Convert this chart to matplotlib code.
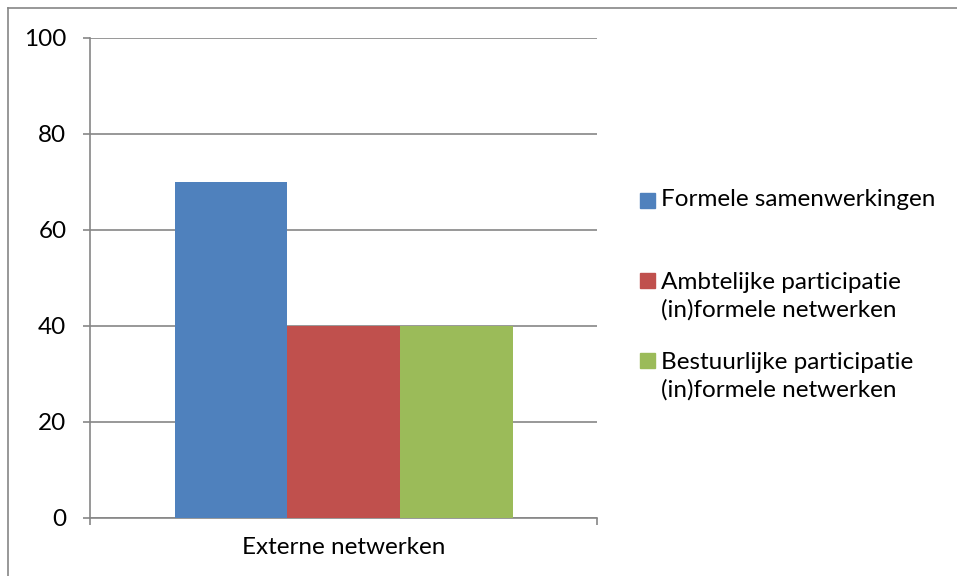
import matplotlib.pyplot as plt
from matplotlib.lines import Line2D
from matplotlib.patches import Rectangle

plt.rcParams['font.family'] = ['Lato', 'DejaVu Sans']

category = 'Externe netwerken'
series = ['Formele samenwerkingen',
          'Ambtelijke participatie\n(in)formele netwerken',
          'Bestuurlijke participatie\n(in)formele netwerken']
values = [70, 40, 40]
colors = ['#4F81BD', '#C0504D', '#9BBB59']
yticks = [0, 20, 40, 60, 80, 100]

W, H = 957, 576
grid_col = '#868686'
fs = 17.5

fig = plt.figure(figsize=(W / 100, H / 100), dpi=100)
ax = fig.add_axes([90 / W, 1 - 518 / H, 507 / W, 480 / H])

bar_w = 2 / 9
for i, (v, c) in enumerate(zip(values, colors)):
    ax.bar((i - 1) * bar_w, v, width=bar_w, color=c, zorder=3)

ax.set_xlim(-0.5, 0.5)
ax.set_ylim(0, 100)
ax.set_yticks(yticks)
ax.yaxis.grid(True, color=grid_col, lw=1.2)
ax.set_axisbelow(True)

for s in ['top', 'right']:
    ax.spines[s].set_visible(False)
for s in ['left', 'bottom']:
    ax.spines[s].set_color(grid_col)
    ax.spines[s].set_linewidth(1.2)

ax.tick_params(axis='y', length=5, width=1.2, color=grid_col,
               labelsize=fs, pad=12)
ax.set_xticks([-0.5, 0.5])
ax.set_xticklabels(['', ''])
ax.set_xticks([0], minor=True)
ax.set_xticklabels([category], minor=True)
ax.tick_params(axis='x', which='major', length=5, width=1.2, color=grid_col)
ax.tick_params(axis='x', which='minor', length=0, labelsize=fs, pad=14)

# legend drawn by hand so the entry spacing can follow the layout
legend_rows = [200, 280, 360]
line_gap = 33
for lbl, c, yc in zip(series, colors, legend_rows):
    fig.patches.append(Rectangle((640 / W, 1 - (yc + 7.5) / H), 15 / W, 15 / H,
                                 transform=fig.transFigure, color=c))
    n = lbl.count('\n')
    fig.text(661 / W, 1 - (yc + n * line_gap / 2) / H, lbl, fontsize=fs,
             va='center', ha='left', linespacing=1.35)

# outer chart border
fig.add_artist(Line2D([8 / W, 8 / W], [0, 1 - 8 / H], color=grid_col, lw=1.2,
                      transform=fig.transFigure))
fig.add_artist(Line2D([8 / W, 1], [1 - 8 / H, 1 - 8 / H], color=grid_col, lw=1.2,
                      transform=fig.transFigure))

fig.savefig('out.png', dpi=100)
